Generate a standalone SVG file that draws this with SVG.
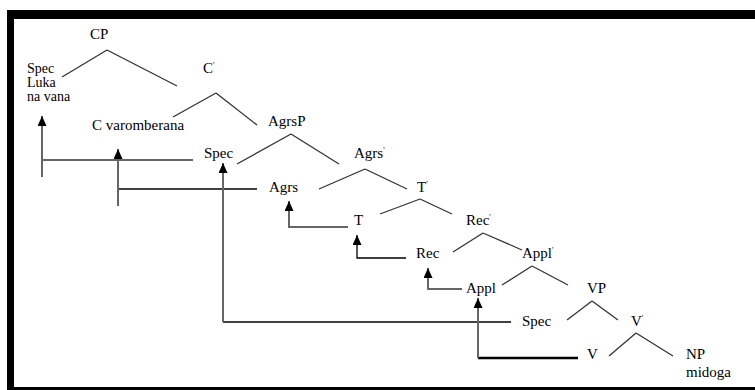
<svg xmlns="http://www.w3.org/2000/svg" width="755" height="390" viewBox="0 0 755 390">
<style>
text{font-family:'Liberation Serif','Tinos','Times New Roman','DejaVu Serif',serif;font-size:15px;fill:#000}
.pr{font-size:8px}
.sm{font-size:14px}
.tree line{stroke:#333;stroke-width:1.3}
.g{stroke:#666;stroke-width:2;fill:none}
.k{stroke:#000;stroke-width:1.3;fill:none}
.kk{stroke:#000;stroke-width:2.5;fill:none}
</style>
<defs>
<marker id="ah" markerWidth="9" markerHeight="10" refX="4.5" refY="0" orient="0" markerUnits="userSpaceOnUse" viewBox="0 0 9 10">
<path d="M0,10 L4.5,0 L9,10 Z" fill="#000"/>
</marker>
</defs>
<rect x="0" y="0" width="755" height="390" fill="#fff"/>
<g id="frame">
<rect x="7" y="10" width="748" height="9" fill="#000"/>
<rect x="7" y="10" width="7" height="380" fill="#000"/>
<rect x="7" y="387" width="748" height="3" fill="#000"/>
</g>
<g id="tree-edges" class="tree">
<line x1="107" y1="50" x2="62" y2="77"/><line x1="107" y1="50" x2="177" y2="86"/>
<line x1="216" y1="93" x2="173" y2="117"/><line x1="216" y1="93" x2="257" y2="125"/>
<line x1="291" y1="134" x2="237" y2="164"/><line x1="291" y1="134" x2="339" y2="164"/>
<line x1="365" y1="169" x2="319" y2="189"/><line x1="365" y1="169" x2="407" y2="189"/>
<line x1="420" y1="199" x2="380" y2="214"/><line x1="420" y1="199" x2="452" y2="214"/>
<line x1="483" y1="233" x2="453" y2="252"/><line x1="483" y1="233" x2="522" y2="250"/>
<line x1="532" y1="266" x2="502" y2="285"/><line x1="532" y1="266" x2="568" y2="285"/>
<line x1="592" y1="301" x2="567" y2="320"/><line x1="592" y1="301" x2="618" y2="320"/>
<line x1="636" y1="333" x2="609" y2="356"/><line x1="636" y1="333" x2="673" y2="356"/>
</g>
<g id="connectors">
<path class="g" d="M193,160 H42 M42,177 V116" marker-end="url(#ah)"/>
<path class="k" d="M257,189 H118"/>
<path class="g" d="M118,206 V149" marker-end="url(#ah)"/>
<path class="k" d="M511,322 H223"/>
<path class="g" d="M223,322 V163" marker-end="url(#ah)"/>
<path class="g" d="M348,227 H289 V201" marker-end="url(#ah)"/>
<path class="k" d="M406,258 H357 V235" marker-end="url(#ah)"/>
<path class="g" d="M462,289 H428 V268" marker-end="url(#ah)"/>
<path class="kk" d="M578,358 H478"/>
<path class="g" d="M478,358 V298" marker-end="url(#ah)"/>
</g>
<g id="n-CP"><text x="90" y="39">CP</text></g>
<g id="n-SpecC"><text class="sm" x="27" y="73">Spec</text><text class="sm" x="27" y="87">Luka</text><text class="sm" x="27" y="101">na vana</text></g>
<g id="n-Cbar"><text x="203" y="73">C<tspan class="pr" dy="-5">'</tspan></text></g>
<g id="n-C"><text x="92" y="130">C varomberana</text></g>
<g id="n-AgrsP"><text x="268" y="126">AgrsP</text></g>
<g id="n-SpecA"><text x="204" y="158">Spec</text></g>
<g id="n-Agrsbar"><text x="354" y="158">Agrs<tspan class="pr" dy="-5">'</tspan></text></g>
<g id="n-Agrs"><text x="269" y="192">Agrs</text></g>
<g id="n-Tbar"><text x="417" y="192">T<tspan class="pr" dy="-5">'</tspan></text></g>
<g id="n-T"><text x="354" y="225">T</text></g>
<g id="n-Recbar"><text x="466" y="225">Rec<tspan class="pr" dy="-5">'</tspan></text></g>
<g id="n-Rec"><text x="416" y="258">Rec</text></g>
<g id="n-Applbar"><text x="522" y="258">Appl<tspan class="pr" dy="-5">'</tspan></text></g>
<g id="n-Appl"><text x="466" y="293">Appl</text></g>
<g id="n-VP"><text x="587" y="293">VP</text></g>
<g id="n-SpecV"><text x="522" y="326">Spec</text></g>
<g id="n-Vbar"><text x="631" y="326">V<tspan class="pr" dy="-5">'</tspan></text></g>
<g id="n-V"><text x="587" y="359">V</text></g>
<g id="n-NP"><text x="686" y="359">NP</text><text x="686" y="377">midoga</text></g>
</svg>
